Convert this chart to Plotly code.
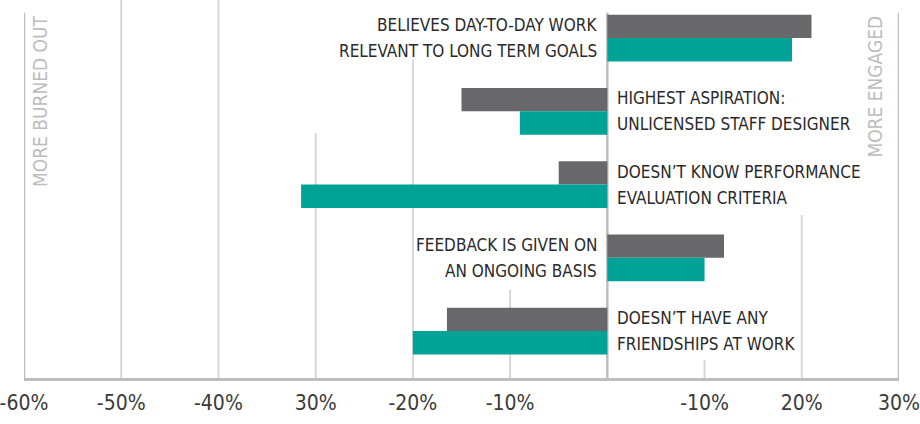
import plotly.graph_objects as go

# Survey items, top to bottom
categories = [
    "BELIEVES DAY-TO-DAY WORK<br>RELEVANT TO LONG TERM GOALS",
    "HIGHEST ASPIRATION:<br>UNLICENSED STAFF DESIGNER",
    "DOESN\u2019T KNOW PERFORMANCE<br>EVALUATION CRITERIA",
    "FEEDBACK IS GIVEN ON<br>AN ONGOING BASIS",
    "DOESN\u2019T HAVE ANY<br>FRIENDSHIPS AT WORK",
]
# Percentage-point difference from the average respondent
gray_values = [21, -15, -5, 12, -16.5]
teal_values = [19, -9, -31.5, 10, -20]

tick_values = [-60, -50, -40, -30, -20, -10, 0, 10, 20, 30]
tick_labels = ["-60%", "-50%", "-40%", "30%", "-20%", "-10%", "", "-10%", "20%", "30%"]

GRAY = "#68686b"
TEAL = "#00a396"
GRID = "#d6d6d6"
RULE = "#bdbdbd"
FONT = "Liberation Sans Narrow, DejaVu Sans Condensed, sans-serif"

ypos = list(range(len(categories)))

fig = go.Figure()
fig.add_trace(go.Bar(y=ypos, x=gray_values, orientation="h",
                     marker=dict(color=GRAY, line=dict(width=0)), hoverinfo="skip"))
fig.add_trace(go.Bar(y=ypos, x=teal_values, orientation="h",
                     marker=dict(color=TEAL, line=dict(width=0)), hoverinfo="skip"))

# Vertical guide lines: (x value, top of the visible segment in paper units)
guides = [(-50, 1.0), (-40, 1.0), (-30, 0.648), (-20, 0.841), (-10, 0.233),
          (10, 0.048), (20, 0.431)]
shapes = []
for gx, top in guides:
    shapes.append(dict(type="line", xref="x", yref="paper", x0=gx, x1=gx,
                       y0=0, y1=top, line=dict(color=GRID, width=2), layer="below"))
# Frame edges and the zero line
for gx in (-60, 0, 30):
    shapes.append(dict(type="line", xref="x", yref="paper", x0=gx, x1=gx,
                       y0=0, y1=0.966, line=dict(color=RULE, width=2.5), layer="below"))

# Item labels sit on the opposite side of zero from the gray bar, one line per row
annotations = []
for i, (label, g) in enumerate(zip(categories, gray_values)):
    right_side = g < 0
    for k, line in enumerate(label.split("<br>")):
        annotations.append(dict(
            x=0, y=i, xref="x", yref="y", text=line, showarrow=False,
            xanchor="left" if right_side else "right",
            xshift=8 if right_side else -8,
            yanchor="middle", yshift=13 if k == 0 else -13,
            font=dict(family=FONT, size=17, color="#2a2a2a"),
        ))

annotations.append(dict(x=0.018, y=0.965, xref="paper", yref="paper", text="MORE BURNED OUT",
                        textangle=-90, showarrow=False, xanchor="center", yanchor="top",
                        font=dict(family=FONT, size=19, color="#bcbcbc")))
annotations.append(dict(x=0.973, y=0.965, xref="paper", yref="paper", text="MORE ENGAGED",
                        textangle=-90, showarrow=False, xanchor="center", yanchor="top",
                        font=dict(family=FONT, size=19, color="#bcbcbc")))

fig.update_layout(
    width=920, height=424,
    margin=dict(l=20, r=15, t=0, b=46),
    paper_bgcolor="white", plot_bgcolor="white",
    barmode="group", bargap=0.36, bargroupgap=0,
    showlegend=False,
    shapes=shapes, annotations=annotations,
    xaxis=dict(range=[-60, 30], tickvals=tick_values, ticktext=tick_labels,
               showgrid=False, zeroline=False, showline=True, linecolor=RULE, linewidth=2.5,
               ticks="", ticklabelstandoff=4, ticklabeloverflow="allow",
               tickfont=dict(family=FONT, size=21, color="#3a3a3a"), fixedrange=True),
    yaxis=dict(range=[4.64, -0.52], showgrid=False, zeroline=False, showticklabels=False,
               showline=False, fixedrange=True),
)

fig.write_html("out.html")
